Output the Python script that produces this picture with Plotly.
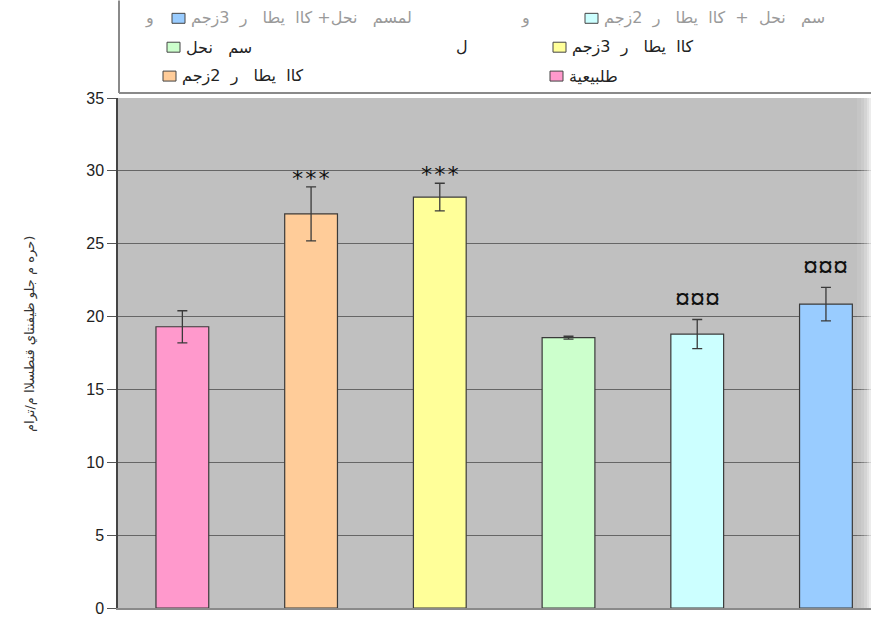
import plotly.graph_objects as go

# ---------------- data ----------------
groups = ["طلبيعية", "كاا  يطا   ر  2زجم", "كاا  يطا   ر  3زجم", "سم   نحل",
          "سم   نحل  +  كاا  يطا   ر  2زجم", "لمسم   نحل+ كاا  يطا   ر  3زجم"]
means = [19.3, 27.05, 28.2, 18.55, 18.8, 20.85]
errors = [1.1, 1.85, 0.95, 0.1, 1.0, 1.15]
sig_labels = ["", "***", "***", "", "¤¤¤", "¤¤¤"]
colors = ["#FF99CC", "#FFCC99", "#FFFF99", "#CCFFCC", "#CCFFFF", "#99CCFF"]
y_title = "حره م جلو ظيفنتاي قنطسلاا م/ترام)"
y_ticks = [0, 5, 10, 15, 20, 25, 30, 35]

W, H = 871, 617
L, R, T, B = 118, 0, 98, 7
PW = W - L - R
PH = H - T - B

def px(x):
    return (x - L) / PW

def py(y):
    return (H - B - y) / PH

x_idx = list(range(len(groups)))

fig = go.Figure()
fig.add_trace(go.Bar(
    x=x_idx, y=means, width=0.41,
    marker=dict(color=colors, line=dict(color="#3a3a3a", width=1.2)),
    error_y=dict(type="data", array=errors, visible=True,
                 color="#3a3a3a", thickness=1.3, width=5),
    showlegend=False,
))

# significance labels above the error bars
for i, lab in enumerate(sig_labels):
    if not lab:
        continue
    star = lab.startswith("*")
    fig.add_annotation(
        x=x_idx[i], y=means[i] + errors[i], xref="x", yref="y",
        text=lab, showarrow=False, yanchor="bottom",
        yshift=-6 if star else 3,
        font=dict(size=22 if star else 27, color="#111",
                  family="DejaVu Sans Mono, monospace" if star else
                  "Liberation Sans, Arial, sans-serif"),
    )

shapes = []
annos = []

# legend frame (only left and bottom edges visible)
shapes.append(dict(type="line", xref="paper", yref="paper",
                   x0=px(119), x1=px(119), y0=py(0), y1=py(93),
                   line=dict(color="#8a8a8a", width=2)))
shapes.append(dict(type="line", xref="paper", yref="paper",
                   x0=px(119), x1=px(W), y0=py(93), y1=py(93),
                   line=dict(color="#8a8a8a", width=2)))

LFONT = "DejaVu Sans, sans-serif"
# legend entries: (series index, icon x px, row y px, text colour, prefix x)
legend_layout = [
    (5, 172, 18, "#9a9a9a", 149),
    (4, 585, 18, "#9a9a9a", 525),
    (3, 167, 47, "#222222", None),
    (2, 553, 47, "#222222", None),
    (1, 163, 76, "#222222", None),
    (0, 550, 76, "#222222", None),
]
for si, ix, ry, tc, pre in legend_layout:
    shapes.append(dict(type="rect", xref="paper", yref="paper",
                       x0=px(ix), x1=px(ix + 13), y0=py(ry - 5), y1=py(ry + 5),
                       fillcolor=colors[si], line=dict(color="#444", width=1)))
    annos.append(dict(x=px(ix + 17), y=py(ry), xref="paper", yref="paper",
                      text=groups[si], showarrow=False, xanchor="left",
                      yanchor="middle",
                      font=dict(size=16, color=tc, family=LFONT)))
    if pre is not None:
        annos.append(dict(x=px(pre), y=py(ry), xref="paper", yref="paper",
                          text="و", showarrow=False, xanchor="center",
                          yanchor="middle",
                          font=dict(size=16, color=tc, family=LFONT)))
annos.append(dict(x=px(462), y=py(46), xref="paper", yref="paper",
                  text="ل", showarrow=False, xanchor="center", yanchor="middle",
                  font=dict(size=16, color="#222", family=LFONT)))

# y-axis title
annos.append(dict(x=px(30), y=py(335), xref="paper", yref="paper",
                  text=y_title, showarrow=False, textangle=-90,
                  xanchor="center", yanchor="middle",
                  font=dict(size=13, color="#333",
                            family="DejaVu Sans, sans-serif")))

# right-edge fade of the plot area
fade = [(857, 0.08), (861, 0.18), (864, 0.32), (867, 0.5), (869, 0.7)]
for k, (x0, op) in enumerate(fade):
    x1 = fade[k + 1][0] if k + 1 < len(fade) else W
    shapes.append(dict(type="rect", xref="paper", yref="paper",
                       x0=px(x0), x1=px(x1), y0=0, y1=1,
                       fillcolor="white", opacity=op, line=dict(width=0),
                       layer="above"))

fig.update_layout(
    width=W, height=H,
    margin=dict(l=L, r=R, t=T, b=B, pad=0),
    paper_bgcolor="white",
    plot_bgcolor="#c0c0c0",
    shapes=shapes,
    annotations=list(fig.layout.annotations) + annos,
    font=dict(family="Liberation Sans, Arial, sans-serif"),
)
fig.update_xaxes(range=[-0.5, 5.35], showticklabels=False, ticks="",
                 showgrid=False, zeroline=False, showline=True,
                 linecolor="#8a8a8a", linewidth=2)
fig.update_yaxes(range=[0, 35], tickvals=y_ticks, ticks="outside", ticklen=9,
                 tickcolor="#555", tickwidth=1, showline=True,
                 linecolor="#444", linewidth=1.5, showgrid=True,
                 gridcolor="#666", gridwidth=1.2, zeroline=False,
                 ticklabeloverflow="allow",
                 tickfont=dict(size=16, color="#222",
                               family="Liberation Sans, Arial, sans-serif"))

fig.write_html("out.html")
